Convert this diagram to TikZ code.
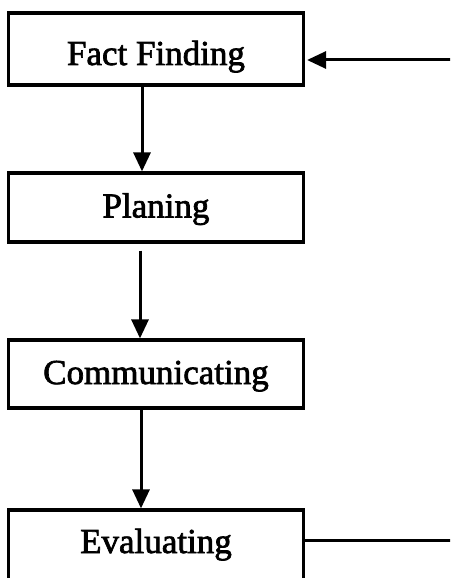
\documentclass[tikz,border=0pt]{standalone}
\usepackage{fontspec}
\setmainfont{Liberation Serif}[FakeBold=2]
\usetikzlibrary{arrows.meta}
\begin{document}
\begin{tikzpicture}[x=1pt,y=1pt,
  stagebox/.style={draw=black, line width=3.2pt, minimum width=295pt, inner sep=0pt,
    font=\fontsize{35}{40}\selectfont, anchor=center, text height=24pt, text depth=4pt},
  flow/.style={line width=3pt, -{Triangle[width=17pt,length=19pt]}},
  link/.style={line width=3pt}]
\useasboundingbox (0,0) rectangle (450,-578);
\clip (0,0) rectangle (450,-578);
\fill[white] (0,0) rectangle (450,-578);
\node[stagebox, minimum height=72pt, text height=36pt] (fact) at (156,-49) {Fact Finding};
\node[stagebox, minimum height=69pt] (plan) at (156,-207.5) {Planing};
\node[stagebox, minimum height=68pt] (comm) at (156,-374) {Communicating};
\node[stagebox, minimum height=70pt, text depth=8pt] (eval) at (156,-545) {Evaluating};
\coordinate (r1) at (456,-540);
\coordinate (r2) at (456,-60);
\draw[flow] ([xshift=-14pt]fact.south) -- ([xshift=-14pt]plan.north);
\draw[flow] ([xshift=-16pt,yshift=-7pt]plan.south) -- ([xshift=-16pt]comm.north);
\draw[flow] ([xshift=-15pt]comm.south) -- ([xshift=-15pt]eval.north);
\draw[link] (eval.east |- r1) -- (r1);
\draw[flow] (r2) -- ([xshift=2pt]fact.east |- r2);
\end{tikzpicture}
\end{document}
